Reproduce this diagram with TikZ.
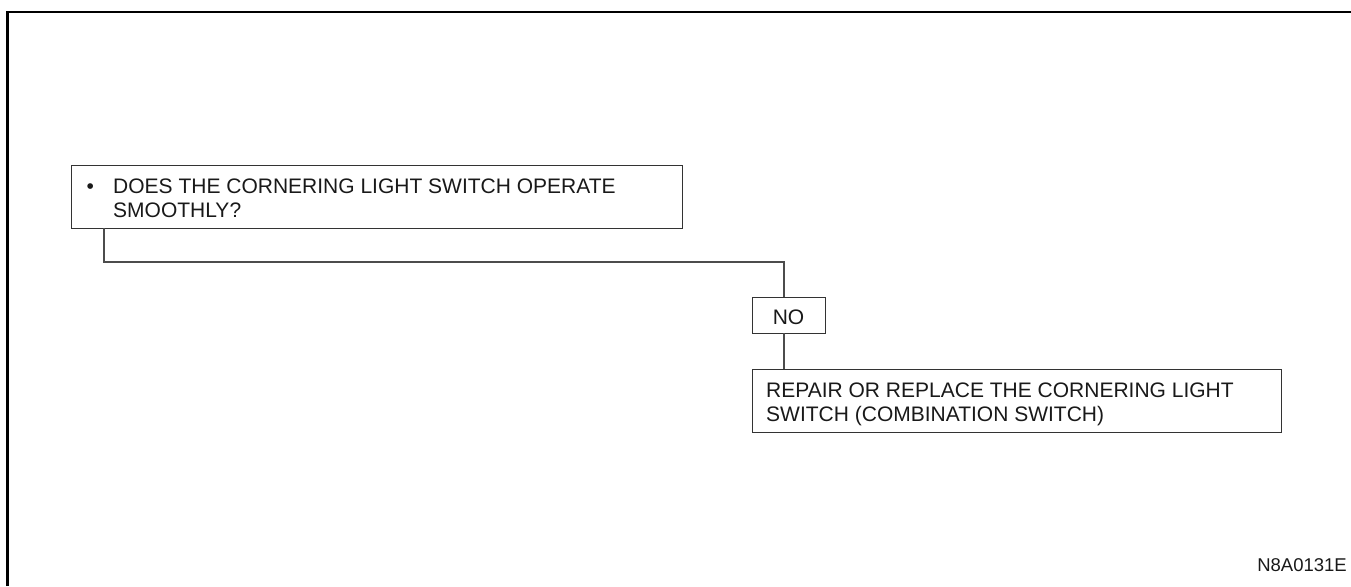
\documentclass[tikz,border=0pt]{standalone}
\usepackage{fontspec}
\setmainfont{Liberation Sans}
\begin{document}
\begin{tikzpicture}[x=1pt,y=-1pt,
  box/.style={draw=black!80,line width=1.3pt,rectangle,inner sep=0pt,anchor=north west},
  wire/.style={draw=black!70,line width=1.3pt},
  txt/.style={anchor=base west,inner sep=0pt,text=black!90,
    font=\fontsize{21}{24}\selectfont},
  code/.style={anchor=base east,inner sep=0pt,text=black!90,
    font=\fontsize{18.5}{22}\selectfont}]
\useasboundingbox (0,0) rectangle (1351,586);
% sheet frame, top and left edges only
\draw[line width=2.5pt] (7.5,586) -- (7.5,12) -- (1351,12);

% question box
\node[box,minimum width=611pt,minimum height=63pt] (q) at (71,165) {};
\node[txt] (qt) at (113,193)
  {\llap{\makebox[26.7pt][l]{•}}\parbox[t]{560pt}{DOES THE CORNERING LIGHT SWITCH OPERATE\\SMOOTHLY?}};

% answer tag
\node[box,minimum width=73pt,minimum height=36pt] (no) at (752,297) {};
\node[txt,anchor=base] (not) at (788.5,324) {NO};

% action box
\node[box,minimum width=529pt,minimum height=63pt] (fix) at (752,369) {};
\node[txt] (fixt) at (766,397)
  {\parbox[t]{500pt}{REPAIR OR REPLACE THE CORNERING LIGHT\\SWITCH (COMBINATION SWITCH)}};

% connectors
\coordinate (qout) at (104,228);
\coordinate (nox) at (784,297);
\draw[wire] (qout) |- (784,262) -- (nox);
\draw[wire] (784,333) -- (784,369);

% figure code
\node[code] (id) at (1347,571) {N8A0131E};
\end{tikzpicture}
\end{document}
